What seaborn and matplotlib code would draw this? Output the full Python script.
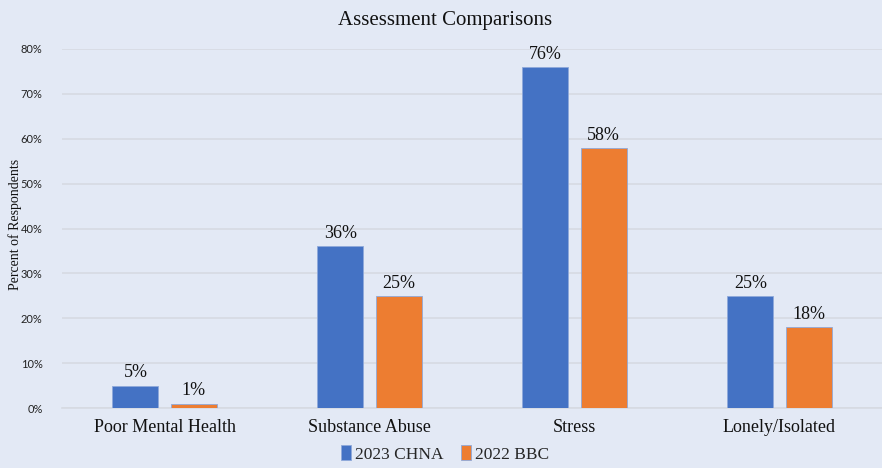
import pandas as pd
import seaborn as sns
import matplotlib.pyplot as plt

# Chart data
categories = ['Poor Mental Health', 'Substance Abuse', 'Stress', 'Lonely/Isolated']
chna_2023 = [5, 36, 76, 25]
bbc_2022 = [1, 25, 58, 18]
series_names = ['2023 CHNA', '2022 BBC']
y_ticks = [0, 10, 20, 30, 40, 50, 60, 70, 80]

df = pd.DataFrame({
    'category': categories * 2,
    'value': chna_2023 + bbc_2022,
    'series': [series_names[0]] * len(categories) + [series_names[1]] * len(categories),
})

bg = '#E3E9F5'
sns.set_theme(style='white')
plt.rcParams['font.family'] = ['Liberation Serif', 'DejaVu Serif']

fig = plt.figure(figsize=(8.82, 4.68), dpi=100, facecolor=bg)
ax = fig.add_axes([0.0703, 0.1282, 0.9297, 0.7671])
ax.set_facecolor(bg)

sns.barplot(data=df, x='category', y='value', hue='series',
            palette=['#4472C4', '#ED7D31'], saturation=1, width=0.566, gap=0.207,
            edgecolor='#8FA9DA', linewidth=0.6, ax=ax, zorder=3)

# Value labels
for cont in ax.containers:
    ax.bar_label(cont, labels=[f'{v:.0f}%' for v in cont.datavalues],
                 padding=3, fontsize=13, color='#111111')

ax.set_ylim(0, 80)
ax.set_yticks(y_ticks)
ax.set_yticklabels([f'{t}%' for t in y_ticks], family='Lato', fontsize=8, color='#222222')
ax.tick_params(axis='y', length=0, pad=14)
ax.tick_params(axis='x', length=0, pad=8, labelsize=13, labelcolor='#111111')
ax.grid(axis='y', color='#D6DAE2', linewidth=1.2, zorder=0)
ax.set_axisbelow(True)
for s in ['top', 'right', 'left']:
    ax.spines[s].set_visible(False)
ax.spines['bottom'].set_color('#D6DAE2')
ax.spines['bottom'].set_linewidth(1.2)

ax.set_xlabel('')
ax.set_ylabel('Percent of Respondents', fontsize=10, color='#111111')
ax.yaxis.set_label_coords(-0.049, 0.51)
fig.text(0.505, 0.957, 'Assessment Comparisons', ha='center', va='center',
         fontsize=15, color='#111111')

ax.legend(loc='upper center', bbox_to_anchor=(0.467, -0.085), ncol=2, frameon=False,
          prop={'family': 'Liberation Serif', 'size': 12.5},
          handlelength=0.6, handleheight=0.9, handletextpad=0.2,
          columnspacing=1.0, borderaxespad=0)

fig.savefig('out.png', dpi=100, facecolor=bg)
